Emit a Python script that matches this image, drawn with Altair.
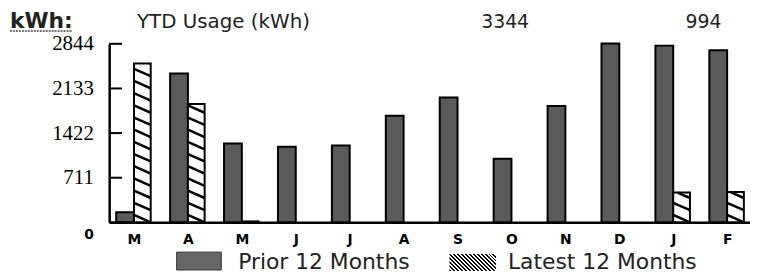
import json
import altair as alt
import pandas as pd

# ---------------- data ----------------
months = ["M", "A", "M", "J", "J", "A", "S", "O", "N", "D", "J", "F"]
prior = [160, 2370, 1255, 1205, 1225, 1700, 1990, 1015, 1855, 2850, 2815, 2740]
latest = [2530, 1885, 15, 0, 0, 0, 0, 0, 0, 0, 475, 485]
y_ticks = [0, 711, 1422, 2133, 2844]
legend_labels = ["Prior 12 Months", "Latest 12 Months"]
header_labels = ["YTD Usage (kWh)", "3344", "994"]
unit_label = "kWh:"

df = pd.DataFrame({"idx": list(range(len(months))), "month": months,
                   "prior": prior, "latest": latest})

# ---------------- layout / style ----------------
W, H = 646, 180
xs = alt.Scale(domain=[-0.46, 11.424], nice=False, zero=False)
ys = alt.Scale(domain=[0, 2844], nice=False, zero=False)
PW, LW = 0.33, 0.31          # bar widths in category units
S, D = 194, 118              # hatch spacing / slope (kWh units)
GRAY = "#5a5a5a"

x_axis = alt.Axis(
    values=list(range(len(months))),
    labelExpr=json.dumps(months) + "[datum.value]",
    title=None, grid=False, ticks=False, tickSize=0,
    domainColor="black", domainWidth=2.5,
    labelFont="DejaVu Sans", labelFontWeight="bold", labelFontSize=14,
    labelColor="black", labelPadding=10, labelFlush=False, labelOverlap=False,
)
y_axis = alt.Axis(
    values=y_ticks, format="d", title=None, grid=False, ticks=False, tickSize=0,
    domainColor="black", domainWidth=2.5, labelColor="black", labelPadding=16,
    labelFont={"condition": {"test": "datum.value === 0", "value": "DejaVu Sans"},
               "value": "Liberation Serif"},
    labelFontWeight={"condition": {"test": "datum.value === 0", "value": "bold"},
                     "value": "normal"},
    labelFontSize={"condition": {"test": "datum.value === 0", "value": 14},
                   "value": 21},
    labelOffset={"condition": {"test": "datum.value === 0", "value": 12},
                 "value": 0},
    labelFlush=False, labelOverlap=False,
)

def X(field):
    return alt.X(field, scale=xs, axis=x_axis)

def Y(field):
    return alt.Y(field, scale=ys, axis=y_axis)

# ---------------- bars ----------------
prior_bars = alt.Chart(df).transform_calculate(
    bx1=f"datum.idx - {PW}", bx2="datum.idx"
).mark_rect(fill=GRAY, stroke="black", strokeWidth=2).encode(
    x=X("bx1:Q"), x2="bx2:Q", y=Y("prior:Q"), y2=alt.datum(0),
)

latest_base = alt.Chart(df).transform_filter("datum.latest > 0").transform_calculate(
    bx1="datum.idx", bx2=f"datum.idx + {LW}"
)
latest_fill = latest_base.mark_rect(fill="white").encode(
    x=X("bx1:Q"), x2="bx2:Q", y=Y("latest:Q"), y2=alt.datum(0),
)
latest_outline = latest_base.mark_rect(
    fill="transparent", stroke="black", strokeWidth=2
).encode(
    x=X("bx1:Q"), x2="bx2:Q", y=Y("latest:Q"), y2=alt.datum(0),
)

stripes = alt.Chart(df).transform_filter("datum.latest > 0").transform_calculate(
    k=f"sequence(0, floor(datum.latest / {S}) + 1)"
).transform_flatten(["k"]).transform_calculate(
    t0=f"max(0, 1 - (datum.latest - datum.k * {S}) / {D})"
).transform_filter("datum.t0 < 1").transform_calculate(
    sx1=f"datum.idx + {LW} * datum.t0",
    sy1=f"datum.k * {S} + {D} * (1 - datum.t0)",
    sx2=f"datum.idx + {LW}",
    sy2=f"datum.k * {S}",
).mark_rule(color="black", strokeWidth=2.5).encode(
    x=X("sx1:Q"), x2="sx2:Q", y=Y("sy1:Q"), y2="sy2:Q",
)

# inward y ticks
tick_rules = alt.Chart(pd.DataFrame({"v": y_ticks})).mark_rule(
    color="black", strokeWidth=2
).encode(x=alt.value(0), x2=alt.value(13), y=Y("v:Q"))

# ---------------- texts ----------------
def text_layer(txt, x, y, **kw):
    return alt.Chart(pd.DataFrame({"t": [txt]})).mark_text(
        align="left", baseline="alphabetic", **kw
    ).encode(text="t:N", x=alt.value(x), y=alt.value(y))

header = (
    text_layer(header_labels[0], 28, -16, font="DejaVu Sans", fontSize=20, color="#222")
    + text_layer(header_labels[1], 375, -16, font="DejaVu Sans", fontSize=19, color="#222")
    + text_layer(header_labels[2], 581, -16, font="DejaVu Sans", fontSize=19, color="#222")
)
unit = text_layer(unit_label, -100, -16, font="DejaVu Sans", fontSize=22,
                  fontWeight="bold", color="#222")
underline = alt.Chart(pd.DataFrame({"t": [0]})).mark_rule(
    color="#444", strokeWidth=1.5, strokeDash=[2, 1]
).encode(x=alt.value(-100), x2=alt.value(-37), y=alt.value(-13), y2=alt.value(-13))

# ---------------- legend ----------------
sw_w, sw_h = 47, 17
s = (sw_w + sw_h) / (sw_w ** 2 + sw_h ** 2)
n = 16
stops = []
for k in range(n):
    a, m, b = k / n, (k + 0.5) / n, (k + 1) / n
    stops += [{"offset": a, "color": "black"}, {"offset": m, "color": "black"},
              {"offset": m, "color": "white"}, {"offset": b, "color": "white"}]
hatch = {"gradient": "linear", "x1": 0, "y1": 1,
         "x2": s * sw_w, "y2": 1 - s * sw_h, "stops": stops}

one = pd.DataFrame({"t": [0]})
leg_prior = alt.Chart(one).mark_rect(fill="#666666", stroke="#333", strokeWidth=1).encode(
    x=alt.value(68), x2=alt.value(113), y=alt.value(210), y2=alt.value(228))
leg_latest = alt.Chart(one).mark_rect(fill=hatch).encode(
    x=alt.value(343), x2=alt.value(343 + sw_w), y=alt.value(212), y2=alt.value(212 + sw_h))
leg_t1 = text_layer(legend_labels[0], 130, 227.5, font="DejaVu Sans", fontSize=22, color="#222")
leg_t2 = text_layer(legend_labels[1], 402, 227.5, font="DejaVu Sans", fontSize=22, color="#222")

chart = alt.layer(
    prior_bars, latest_fill, stripes, latest_outline, tick_rules,
    header, unit, underline, leg_prior, leg_latest, leg_t1, leg_t2,
).properties(
    width=W, height=H,
    padding={"left": 102, "top": 35, "right": 0, "bottom": 57},
    autosize=alt.AutoSizeParams(type="none"),
    background="white",
).configure_view(stroke=None)

chart.save("out.html", embed_options={"renderer": "svg", "actions": False})
